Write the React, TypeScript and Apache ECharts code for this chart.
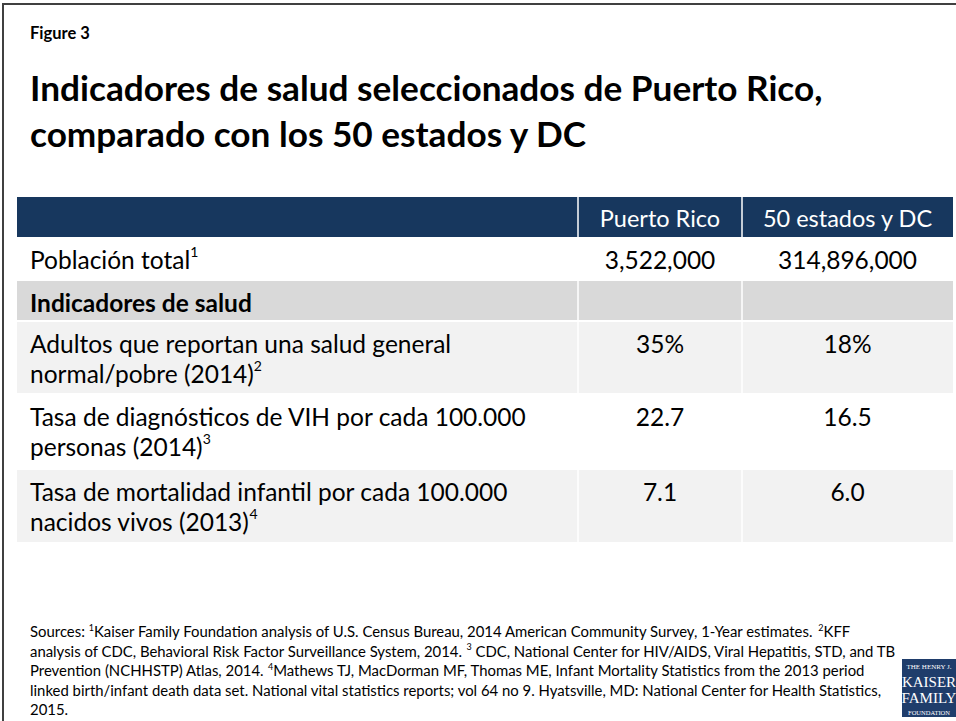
import React, { useEffect, useRef } from "react";
import * as echarts from "echarts";

const figureLabel = "Figure 3";
const titleLines = [
  "Indicadores de salud seleccionados de Puerto Rico,",
  "comparado con los 50 estados y DC",
];
const columnHeaders = ["", "Puerto Rico", "50 estados y DC"];
const rowLabels = [
  "Población total{sup|1}",
  "{b|Indicadores de salud}",
  "Adultos que reportan una salud general\nnormal/pobre (2014){sup|2}",
  "Tasa de diagnósticos de VIH por cada 100.000\npersonas (2014){sup|3}",
  "Tasa de mortalidad infantil por cada 100.000\nnacidos vivos (2013){sup|4}",
];
const puertoRicoValues = ["3,522,000", "", "35%", "22.7", "7.1"];
const statesDcValues = ["314,896,000", "", "18%", "16.5", "6.0"];
const sourceLines = [
  "Sources: {sup|1}Kaiser Family Foundation analysis of U.S. Census Bureau, 2014 American Community Survey, 1-Year estimates. {sup|2}KFF",
  "analysis of CDC, Behavioral Risk Factor Surveillance System, 2014. {sup|3} CDC, National Center for HIV/AIDS, Viral Hepatitis, STD, and TB",
  "Prevention (NCHHSTP) Atlas, 2014. {sup|4}Mathews TJ, MacDorman MF, Thomas ME, Infant Mortality Statistics from the 2013 period",
  "linked birth/infant death data set. National vital statistics reports; vol 64 no 9. Hyatsville, MD: National Center for Health Statistics,",
  "2015.",
];
const logoLines = ["THE HENRY J.", "KAISER", "FAMILY", "FOUNDATION"];

// layout
const FONT = "Lato";
const tableLeft = 17;
const tableRight = 953;
const colX = [17, 578, 742, 953];
const headerTop = 197;
const headerBottom = 237;
const rowBounds = [237, 280, 321, 394, 469, 542];
const rowFills = ["#ffffff", "#d9d9d9", "#f2f2f2", "#ffffff", "#f2f2f2"];
const NAVY = "#17375e";
const BODY = 24.5;

export default function App() {
  const ref = useRef<HTMLDivElement>(null);
  useEffect(() => {
    document.body.style.margin = "0";
    const chart = echarts.init(ref.current!, null, { renderer: "svg" });
    const g: any[] = [];
    // frame
    g.push({ type: "line", shape: { x1: 2, y1: 4, x2: 956, y2: 4 }, style: { stroke: "#404040", lineWidth: 2 } });
    g.push({ type: "line", shape: { x1: 3, y1: 4, x2: 3, y2: 721 }, style: { stroke: "#404040", lineWidth: 2 } });
    // figure label and title
    g.push({
      type: "text", x: 30, y: 33,
      style: { text: figureLabel, font: `bold 16.5px ${FONT}`, fill: "#000", verticalAlign: "middle" },
    });
    titleLines.forEach((t, i) => {
      g.push({
        type: "text", x: 30, y: 87 + i * 46,
        style: { text: t, font: `bold 35.2px ${FONT}`, fill: "#000", verticalAlign: "middle" },
      });
    });
    // header
    g.push({ type: "rect", shape: { x: tableLeft, y: headerTop, width: tableRight - tableLeft, height: headerBottom - headerTop }, style: { fill: NAVY } });
    columnHeaders.forEach((h, i) => {
      if (!h) return;
      g.push({
        type: "text", x: (colX[i] + colX[i + 1]) / 2, y: (headerTop + headerBottom) / 2 + 1,
        style: { text: h, font: `23.5px ${FONT}`, fill: "#fff", align: "center", verticalAlign: "middle" },
      });
    });
    // rows
    const rich = {
      sup: { fontSize: 14, fontFamily: FONT, verticalAlign: "top", lineHeight: 30 },
      b: { fontWeight: "bold", fontSize: BODY, fontFamily: FONT, lineHeight: 30 },
    };
    rowLabels.forEach((lab, r) => {
      const y0 = rowBounds[r];
      const y1 = rowBounds[r + 1];
      g.push({ type: "rect", shape: { x: tableLeft, y: y0, width: tableRight - tableLeft, height: y1 - y0 }, style: { fill: rowFills[r] } });
      const textTop = y0 + 7;
      g.push({
        type: "text", x: 30, y: textTop,
        style: { text: lab, rich, font: `${BODY}px ${FONT}`, fill: "#000", lineHeight: 30, verticalAlign: "top" },
      });
      [puertoRicoValues[r], statesDcValues[r]].forEach((v, c) => {
        if (!v) return;
        g.push({
          type: "text", x: (colX[c + 1] + colX[c + 2]) / 2, y: textTop,
          style: { text: v, font: `${BODY}px ${FONT}`, fill: "#000", align: "center", lineHeight: 30, verticalAlign: "top" },
        });
      });
    });
    // separators
    for (let r = 1; r < rowBounds.length - 1; r++) {
      g.push({ type: "line", shape: { x1: tableLeft, y1: rowBounds[r], x2: tableRight, y2: rowBounds[r] }, style: { stroke: "#fff", lineWidth: 2 } });
    }
    [colX[1], colX[2]].forEach((x) => {
      g.push({ type: "line", shape: { x1: x, y1: headerTop, x2: x, y2: rowBounds[rowBounds.length - 1] }, style: { stroke: "#ffffff", lineWidth: 1.5 } });
    });
    // sources
    const srcRich = { sup: { fontSize: 9, fontFamily: FONT, verticalAlign: "top", lineHeight: 17 } };
    sourceLines.forEach((l, i) => {
      g.push({
        type: "text", x: 30, y: 631 + i * 19.5,
        style: { text: l, rich: srcRich, font: `14.9px ${FONT}`, fill: "#000", lineHeight: 17, verticalAlign: "middle" },
      });
    });
    // logo
    g.push({ type: "rect", shape: { x: 902, y: 659, width: 54, height: 58 }, style: { fill: "#1f3d6b" } });
    const logoY = [667, 682, 698, 712];
    const logoSize = [7, 15, 15, 6.5];
    logoLines.forEach((t, i) => {
      g.push({
        type: "text", x: 929, y: logoY[i],
        style: { text: t, font: `${logoSize[i]}px "Liberation Serif"`, fill: "#fff", align: "center", verticalAlign: "middle" },
      });
    });
    chart.setOption({ animation: false, graphic: { elements: g } });
    return () => chart.dispose();
  }, []);
  return <div ref={ref} style={{ width: 956, height: 721, background: "#fff" }} />;
}
